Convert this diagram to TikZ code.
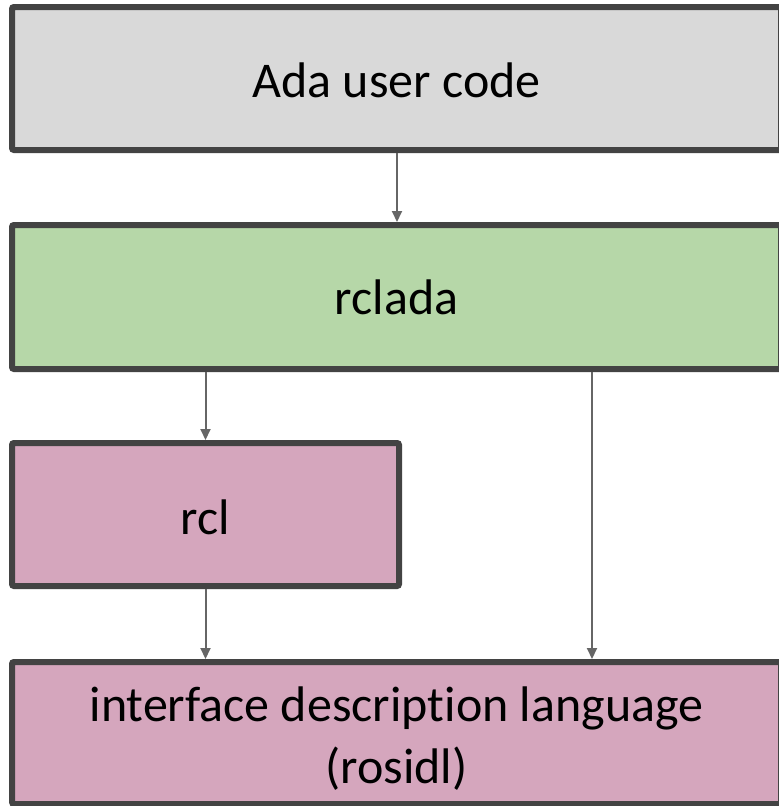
\documentclass[tikz,border=0pt]{standalone}
\usepackage{fontspec}
\setmainfont[Ligatures=NoCommon]{Carlito}
\usetikzlibrary{arrows.meta}
\definecolor{frameclr}{HTML}{434343}
\definecolor{arrowclr}{HTML}{666666}
\definecolor{usergray}{HTML}{D9D9D9}
\definecolor{bindgreen}{HTML}{B6D7A8}
\definecolor{libpink}{HTML}{D5A6BD}
% lower the content of a label without changing its box dimensions
\newcommand\droptext[2]{\raisebox{-#1}[\height][\depth]{#2}}
\tikzset{
  layer/.style={draw=frameclr, line width=6pt, rounded corners=2pt, inner sep=0pt,
    align=center, font=\fontsize{50}{62}\selectfont},
  dep/.style={draw=arrowclr, line width=2pt, -{Triangle[length=11pt,width=10pt]}}
}
\begin{document}
\begin{tikzpicture}[x=1pt,y=-1pt]
  \useasboundingbox (0,0) rectangle (779,806);
  \node[layer, fill=usergray, minimum width=769pt, minimum height=143pt] (user) at (396.5,78.5) {\droptext{2pt}{Ada user code}};
  \node[layer, fill=bindgreen, minimum width=769pt, minimum height=144pt] (rclada) at (396.5,297) {rclada};
  \node[layer, fill=libpink, minimum width=387pt, minimum height=143pt] (rcl) at (205.5,514.5) {\droptext{3pt}{rcl}};
  \node[layer, fill=libpink, minimum width=769pt, minimum height=142pt] (idl) at (396.5,733)
    {\droptext{7pt}{\begin{tabular}{@{}c@{}}interface description language\\(rosidl)\end{tabular}}};
  \draw[dep] (user.south -| 397,0) -- (rclada.north -| 397,0);
  \draw[dep] (rclada.south -| rcl.north) -- (rcl.north);
  \draw[dep] (rclada.south -| 592,0) -- (idl.north -| 592,0);
  \draw[dep] (rcl.south) -- (idl.north -| rcl.south);
\end{tikzpicture}
\end{document}
